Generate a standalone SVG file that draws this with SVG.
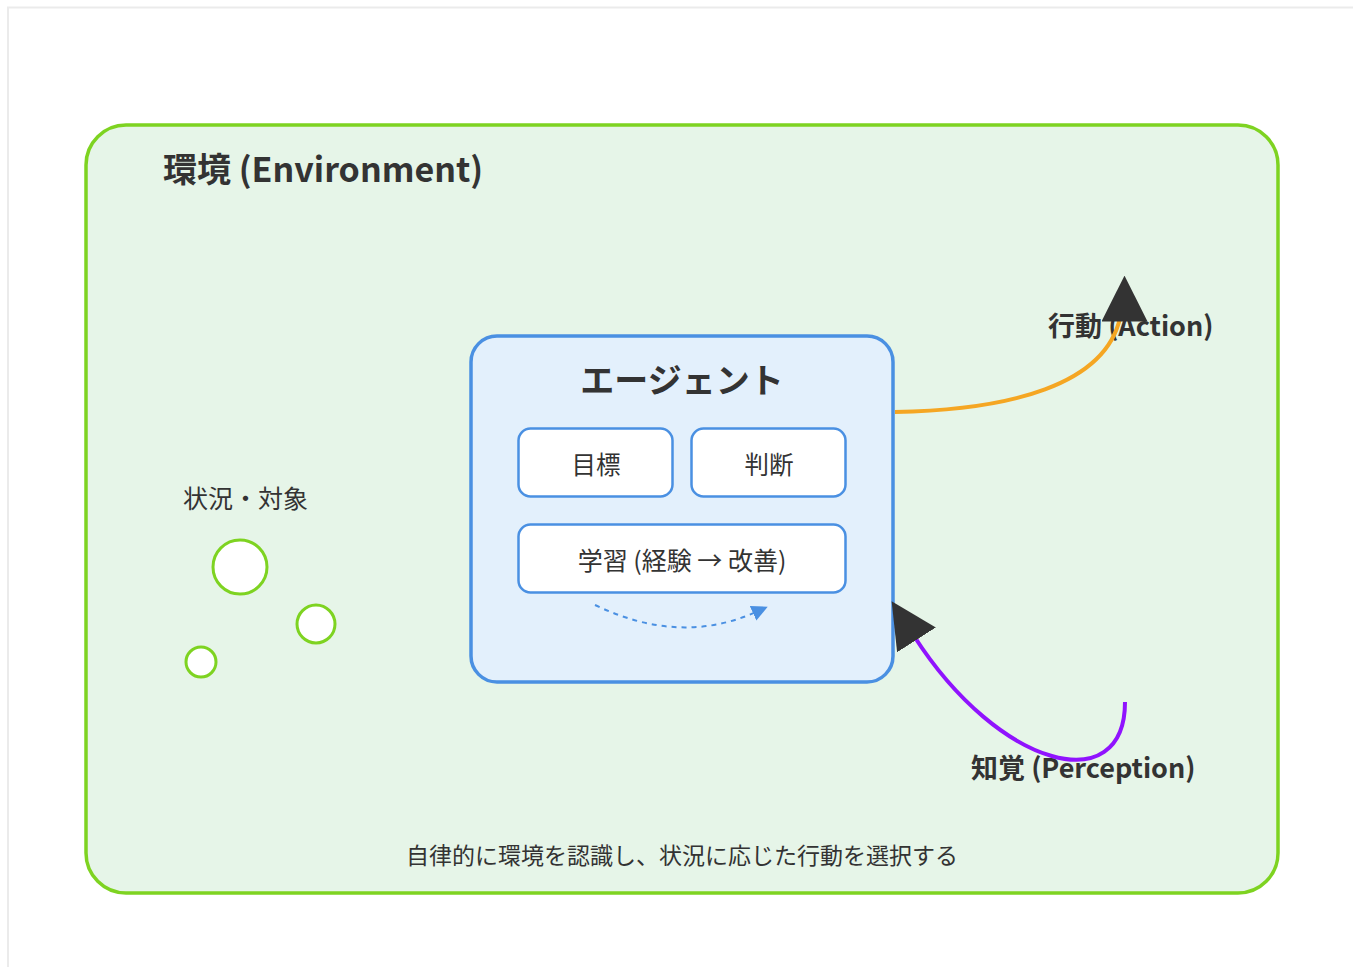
<svg xmlns="http://www.w3.org/2000/svg" width="1356" height="967" viewBox="0 0 1356 967">
<defs>
<style>
text{font-family:"Noto Sans CJK JP","Noto Sans",sans-serif;fill:#333}
.bold{font-weight:700}
.sub{fill:#fff;stroke:#4a90e2;stroke-width:2.5}
.obj{fill:#fff;stroke:#7ed321;stroke-width:3}
</style>
<marker id="ah" viewBox="0 0 10 10" refX="1" refY="5" markerWidth="11.5" markerHeight="11.5" markerUnits="strokeWidth" orient="auto"><path d="M0,0 L10,5 L0,10 z" fill="#333"/></marker>
<marker id="ahup" viewBox="0 0 10 10" refX="1" refY="5" markerWidth="11.5" markerHeight="11.5" markerUnits="strokeWidth" orient="-90"><path d="M0,0 L10,5 L0,10 z" fill="#333"/></marker>
<marker id="ahb" viewBox="0 0 10 10" refX="2" refY="5" markerWidth="8" markerHeight="8" markerUnits="strokeWidth" orient="auto"><path d="M0,0 L10,5 L0,10 z" fill="#4a90e2"/></marker>
</defs>
<rect width="1356" height="967" fill="#fff"/>
<path d="M8 967 V7.5 H1353" fill="none" stroke="#ebebeb" stroke-width="2"/>
<g id="environment">
<rect x="86" y="125" width="1192" height="768" rx="40" fill="#e6f5e8" stroke="#7ed321" stroke-width="3.5"/>
<text x="163" y="182" font-size="34" class="bold">環境 (Environment)</text>
<text x="682" y="864" font-size="23" text-anchor="middle">自律的に環境を認識し、状況に応じた行動を選択する</text>
</g>
<g id="objects">
<text x="183" y="508" font-size="25">状況・対象</text>
<circle cx="240" cy="567" r="27" class="obj"/>
<circle cx="316" cy="624" r="19" class="obj"/>
<circle cx="201" cy="662" r="15" class="obj"/>
</g>
<g id="agent">
<rect x="471" y="336" width="422" height="346" rx="26" fill="#e3f0fc" stroke="#4a90e2" stroke-width="3.5"/>
<text x="682" y="393" font-size="34" class="bold" text-anchor="middle">エージェント</text>
</g>
<g id="goal">
<rect x="518.5" y="428.5" width="154" height="68" rx="12" class="sub"/>
<text x="596" y="474" font-size="24.5" text-anchor="middle">目標</text>
</g>
<g id="judge">
<rect x="691.5" y="428.5" width="154" height="68" rx="12" class="sub"/>
<text x="769" y="474" font-size="24.5" text-anchor="middle">判断</text>
</g>
<g id="learn">
<rect x="518.5" y="524.5" width="327" height="68" rx="12" class="sub"/>
<text x="682" y="570" font-size="25" text-anchor="middle">学習 (経験 → 改善)</text>
</g>
<g id="connectors">
<text x="1048" y="336" font-size="27" class="bold">行動 (Action)</text>
<text x="971" y="778" font-size="27" class="bold">知覚 (Perception)</text>
<path d="M595 605 Q680 646 756 612" fill="none" stroke="#4a90e2" stroke-width="2" stroke-dasharray="5,5" marker-end="url(#ahb)"/>
<path d="M895 412 C1010 410 1105 385 1120 318" fill="none" stroke="#f5a623" stroke-width="4"/>
<path d="M1124.5 318 V317" fill="none" stroke="none" stroke-width="4" marker-end="url(#ahup)"/>
<path d="M1125 702 C1125 800 1000 770 914 636" fill="none" stroke="#9013fe" stroke-width="4" marker-end="url(#ah)"/>
</g>
</svg>
